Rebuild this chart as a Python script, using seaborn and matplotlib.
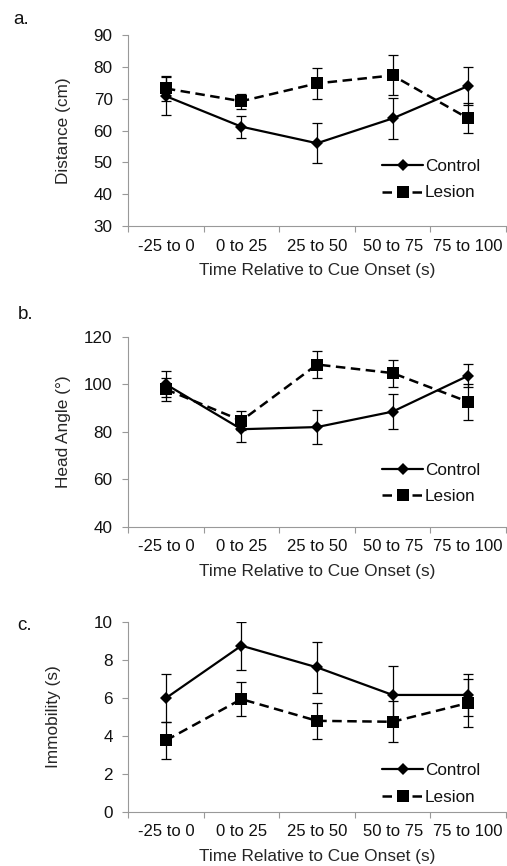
import numpy as np
import pandas as pd
import seaborn as sns
import matplotlib.pyplot as plt

# data
bins = ["-25 to 0", "0 to 25", "25 to 50", "50 to 75", "75 to 100"]

dist_control = [70.8, 61.2, 56.0, 63.8, 74.0]
dist_control_err = [6.0, 3.5, 6.3, 6.5, 6.0]
dist_lesion = [73.2, 69.2, 74.8, 77.3, 63.8]
dist_lesion_err = [4.0, 2.3, 4.8, 6.3, 4.7]

angle_control = [100.0, 81.1, 82.0, 88.5, 103.6]
angle_control_err = [5.5, 5.5, 7.3, 7.3, 4.8]
angle_lesion = [97.9, 84.7, 108.3, 104.7, 92.6]
angle_lesion_err = [4.9, 4.0, 5.8, 5.7, 7.5]

immob_control = [5.98, 8.74, 7.60, 6.15, 6.15]
immob_control_err = [1.25, 1.27, 1.33, 1.5, 1.12]
immob_lesion = [3.76, 5.93, 4.79, 4.74, 5.73]
immob_lesion_err = [0.98, 0.88, 0.93, 1.07, 1.25]

sns.set_style("white")
plt.rcParams['font.family'] = ['Liberation Sans', 'DejaVu Sans']
plt.rcParams['text.color'] = '#111111'

fig = plt.figure(figsize=(5.07, 8.66), dpi=100)

panels = [
    # letter, ylabel, control, cerr, lesion, lerr, ylim, yticks, rect, letter pos, legend y, ylabel x
    ("a.", "Distance (cm)", dist_control, dist_control_err, dist_lesion, dist_lesion_err,
     (30, 90), np.arange(30, 91, 10), [0.2525, 0.739, 0.7456, 0.2206], (0.026, 0.977), 0.2435, -0.150),
    ("b.", "Head Angle (\u00b0)", angle_control, angle_control_err, angle_lesion, angle_lesion_err,
     (40, 120), np.arange(40, 121, 20), [0.2525, 0.3915, 0.7456, 0.2197], (0.036, 0.637), 0.2285, -0.150),
    ("c.", "Immobility (s)", immob_control, immob_control_err, immob_lesion, immob_lesion_err,
     (0, 10), np.arange(0, 11, 2), [0.2525, 0.0624, 0.7456, 0.2197], (0.034, 0.278), 0.148, -0.177),
]

pos = np.arange(len(bins))

for letter, ylab, ctl, cerr, les, lerr, ylim, yt, rect, lpos, legy, ylx in panels:
    ax = fig.add_axes(rect)
    df = pd.DataFrame({"x": np.concatenate([pos, pos]),
                       "y": ctl + les,
                       "Group": ["Control"] * 5 + ["Lesion"] * 5})

    ax.errorbar(pos, ctl, yerr=cerr, fmt='none', ecolor='black', elinewidth=0.9,
                capsize=3.5, capthick=0.9, zorder=2)
    ax.errorbar(pos, les, yerr=lerr, fmt='none', ecolor='black', elinewidth=0.9,
                capsize=3.5, capthick=0.9, zorder=2)

    sns.lineplot(data=df[df.Group == "Control"], x="x", y="y", ax=ax, color='black',
                 marker='D', markersize=6.5, markeredgewidth=0, linewidth=1.6,
                 label="Control", zorder=3)
    sns.lineplot(data=df[df.Group == "Lesion"], x="x", y="y", ax=ax, color='black',
                 marker='s', markersize=9, markeredgewidth=0, linewidth=1.8,
                 linestyle=(0, (3.8, 2.2)), label="Lesion", zorder=3)

    ax.set_xlim(-0.5, 4.5)
    ax.set_ylim(*ylim)
    ax.set_yticks(yt)
    ax.set_xticks(pos)
    ax.set_xticklabels(bins)
    ax.set_xticks(np.arange(-0.5, 4.6, 1), minor=True)
    ax.tick_params(axis='x', which='major', length=0, pad=9, labelsize=12, colors='#111111')
    ax.tick_params(axis='x', which='minor', length=4, width=0.8, color='#999999', bottom=True)
    ax.tick_params(axis='y', length=4.5, width=0.8, color='#999999', left=True,
                   labelsize=12.3, labelcolor='#111111', pad=6.5)

    sns.despine(ax=ax)
    for s in ["left", "bottom"]:
        ax.spines[s].set_color('#999999')
        ax.spines[s].set_linewidth(0.8)

    ax.set_xlabel("Time Relative to Cue Onset (s)", fontsize=12.4, labelpad=7)
    ax.set_ylabel(ylab, fontsize=12.4)
    ax.yaxis.set_label_coords(ylx, 0.5)

    sns.move_legend(ax, "center left", bbox_to_anchor=(0.672, legy), frameon=False,
                    fontsize=12.3, handlelength=2.4, handletextpad=0.1, labelspacing=0.7,
                    borderpad=0, borderaxespad=0, title=None)

    fig.text(lpos[0], lpos[1], letter, fontsize=13.5, ha='left', va='center')

fig.savefig("out.png", dpi=100)
